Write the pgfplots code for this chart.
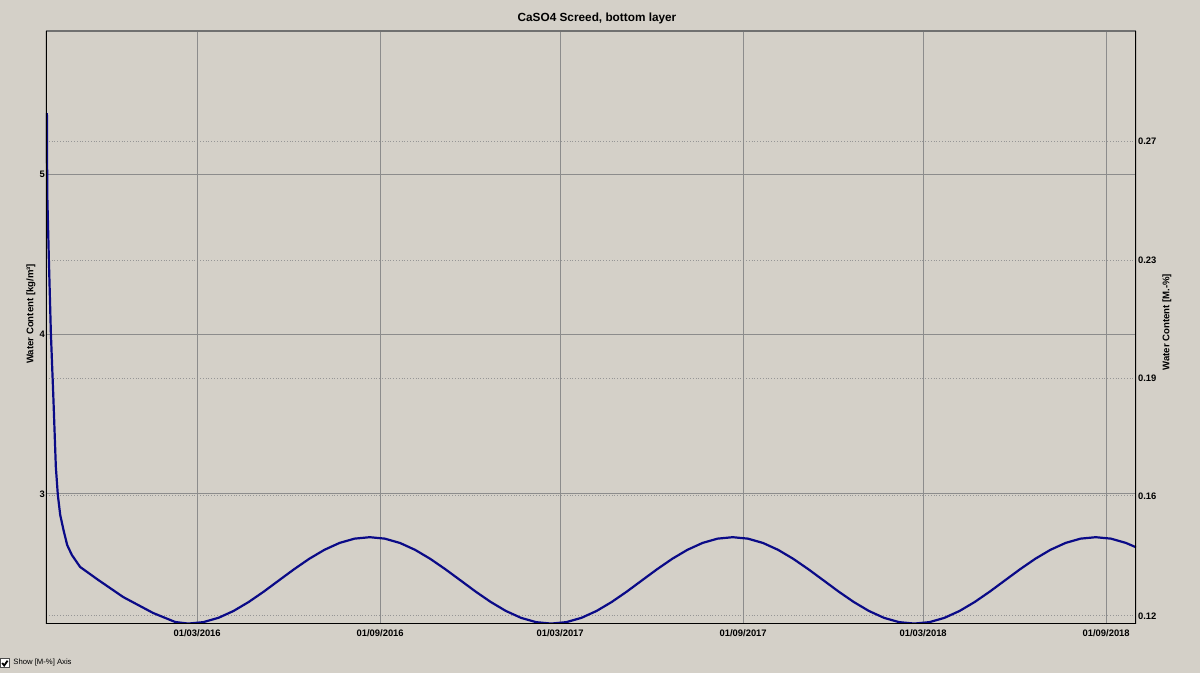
\documentclass[border=0pt]{standalone}
\usepackage{pgfplots}
\pgfplotsset{compat=1.18}
\usepackage{fontspec}
\setmainfont{Liberation Sans}

\definecolor{winbg}{RGB}{212,208,200}
\definecolor{curve}{RGB}{10,10,135}
\definecolor{gridsolid}{RGB}{140,140,140}
\definecolor{griddot}{RGB}{150,150,150}

% x = days from 01/03/2016
\begin{document}
\begin{tikzpicture}[x=0.5pt, y=0.5pt]
\fill[winbg] (0,0) rectangle (1200,673);
\useasboundingbox (0,0) rectangle (1200,673);

% right hand axis [M.-%], drawn first so its grid stays under the curve
\begin{axis}[
    at={(23pt,24.5pt)}, anchor=south west,
    scale only axis, width=545pt, height=296.5pt,
    xmin=-152, xmax=944,
    ymin=2.1875, ymax=5.894,
    axis line style={draw=none},
    xtick=\empty,
    yticklabel pos=right,
    ytick={2.2375,2.9875,3.725,4.4625,5.206},
    yticklabels={0.12,0.16,0.19,0.23,0.27},
    major tick length=0pt,
    ymajorgrids=true,
    grid style={griddot, densely dotted, line width=0.5pt},
    ticklabel style={font=\fontsize{4.7}{5.6}\selectfont\bfseries},
    yticklabel style={xshift=-2.5pt},
    ylabel={Water Content [M.-\%]},
    ylabel style={at={(axis description cs:1.0284,0.509)}, anchor=center,
        font=\fontsize{4.8}{5.8}\selectfont\bfseries},
]
\end{axis}

\begin{axis}[
    at={(23pt,24.5pt)}, anchor=south west,
    scale only axis, width=545pt, height=296.5pt,
    xmin=-152, xmax=944,
    ymin=2.1875, ymax=5.894,
    axis line style={draw=none},
    xtick={0,184,365,549,730,914},
    xticklabels={01/03/2016,01/09/2016,01/03/2017,01/09/2017,01/03/2018,01/09/2018},
    ytick={3,4,5},
    major tick length=0pt,
    grid=major,
    grid style={gridsolid, line width=0.5pt},
    /pgf/number format/assume math mode=true,
    ticklabel style={font=\fontsize{4.7}{5.6}\selectfont\bfseries},
    yticklabel style={xshift=3pt},
    xticklabel style={yshift=0.8pt},
    every axis title shift=0pt,
    title={CaSO4 Screed, bottom layer},
    title style={at={(axis description cs:0.5055,1.021)}, anchor=center,
        font=\fontsize{5.9}{7}\selectfont\bfseries},
    ylabel={Water Content [kg/m³]},
    ylabel style={at={(axis description cs:-0.0138,0.523)}, anchor=center,
        font=\fontsize{4.8}{5.8}\selectfont\bfseries},
]
\addplot[curve, line width=1.1pt] coordinates {
    (-151.1,5.381) (-151.0,5.150) (-150.6,4.838) (-149.1,4.463)
    (-147.1,4.006) (-144.5,3.588) (-142.1,3.169) (-140.1,2.994)
    (-137.7,2.869) (-134.4,2.775) (-130.7,2.681) (-126.0,2.619)
    (-117.7,2.544) (-99.5,2.463) (-74.4,2.356) (-44.2,2.256)
    (-22.1,2.200) (-9.0,2.190)
    (6.2,2.199) (21.4,2.226) (36.6,2.269) (51.8,2.325) (67.0,2.390)
    (82.2,2.460) (97.5,2.530) (112.7,2.595) (127.9,2.651) (143.1,2.694)
    (158.3,2.721) (173.5,2.730) (188.7,2.721) (203.9,2.694) (219.1,2.651)
    (234.3,2.595) (249.5,2.530) (264.8,2.460) (280.0,2.390) (295.2,2.325)
    (310.4,2.269) (325.6,2.226) (340.8,2.199) (356.0,2.190)
    (371.2,2.199) (386.4,2.226) (401.6,2.269) (416.8,2.325) (432.0,2.390)
    (447.2,2.460) (462.5,2.530) (477.7,2.595) (492.9,2.651) (508.1,2.694)
    (523.3,2.721) (538.5,2.730) (553.7,2.721) (568.9,2.694) (584.1,2.651)
    (599.3,2.595) (614.5,2.530) (629.8,2.460) (645.0,2.390) (660.2,2.325)
    (675.4,2.269) (690.6,2.226) (705.8,2.199) (721.0,2.190)
    (736.2,2.199) (751.4,2.226) (766.6,2.269) (781.8,2.325) (797.0,2.390)
    (812.2,2.460) (827.5,2.530) (842.7,2.595) (857.9,2.651) (873.1,2.694)
    (888.3,2.721) (903.5,2.730) (918.7,2.721) (933.9,2.694) (944.0,2.667)
};
% frame: grey on top, black elsewhere
\draw[gridsolid!80!black, line width=0.6pt] (rel axis cs:0,1) -- (rel axis cs:1,1);
\draw[black, line width=1pt] (rel axis cs:0,1) -- (rel axis cs:0,0)
    -- (rel axis cs:1,0) -- (rel axis cs:1,1);
\end{axis}

% "Show [M-%] Axis" check box
\fill[white] (0.5,5) rectangle (9,14);
\draw[black!70, line width=0.5pt] (0.5,5) rectangle (9,14);
\draw[black, line width=0.9pt] (2.2,10) -- (4.2,7.5) -- (7.6,12.3);
\node[anchor=west, inner sep=0pt, font=\fontsize{3.85}{4.6}\selectfont]
    at (13,10) {Show [M-\%] Axis};
\end{tikzpicture}
\end{document}
